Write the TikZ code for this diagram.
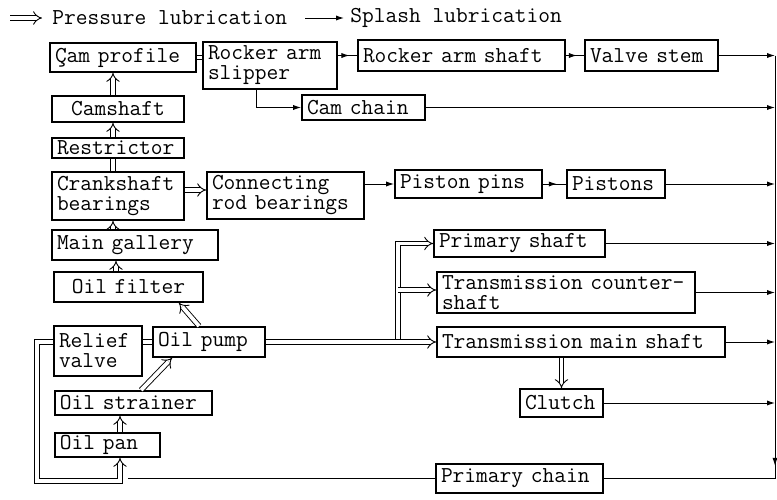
\documentclass[tikz,border=0pt]{standalone}
\usepackage{fontspec}
\usetikzlibrary{arrows.meta,calc,decorations.markings}
\newcommand\mybox[7][left]{%
 \pgfmathsetmacro\bw{(#4-#2)*0.5}%
 \pgfmathsetmacro\bh{(#5-#3)*0.5}%
 \pgfmathsetmacro\tw{(#4-#2)*0.5-5}%
 \node[box, minimum width=\bw pt, minimum height=\bh pt, text width=\tw pt, align=#1] (#6) at ({(#2+#4)/2},{(#3+#5)/2}) {#7};}
\begin{document}
\begin{tikzpicture}[x=0.5pt,y=-0.5pt,
  txt/.style={font=\ttfamily\fontsize{11.4}{10}\selectfont, inner sep=0pt},
  box/.style={txt, draw, line width=0.9pt, inner xsep=2.5pt, inner ysep=0pt},
  spl/.style={line width=0.5pt, -{Latex[length=4pt,width=2.6pt]}},
  splm/.style={line width=0.5pt, postaction={decorate,decoration={markings,mark=at position 0.6 with {\arrow{Latex[length=4pt,width=2.6pt]}}}}},
  pres/.style={line width=0.45pt, double, double distance=1.9pt, -{Implies[scale=1.3]}},
  presl/.style={line width=0.45pt, double, double distance=1.9pt}]
\useasboundingbox (0,0) rectangle (777,499);
% legend
\coordinate (la1) at (10,18); \coordinate (la2) at (42,18);
\coordinate (lb1) at (305,18); \coordinate (lb2) at (344,18);
\draw[pres] (la1) -- (la2);
\node[txt, anchor=west] (lgp) at (52,18) {Pressure lubrication};
\draw[spl] (lb1) -- (lb2);
\node[txt, anchor=west] (lgs) at (350,18) {Splash lubrication};
% boxes
\mybox{50}{43}{196}{72}{campro}{Çam profile}
\mybox{203}{42}{337}{89}{slipper}{Rocker arm\\slipper}
\mybox{358}{40}{565}{71}{rshaft}{Rocker arm shaft}
\mybox{585}{40}{718}{71}{valve}{Valve stem}
\mybox{302}{95}{425}{120}{camchain}{Cam chain}
\mybox[center]{52}{96}{184}{122}{camshaft}{Camshaft}
\mybox{52}{138}{184}{158}{restr}{Restrictor}
\mybox{52}{172}{184}{220}{crank}{Crankshaft\\bearings}
\mybox{207}{172}{364}{219}{conrod}{Connecting\\rod bearings}
\mybox{395}{170}{542}{198}{ppins}{Piston pins}
\mybox{567}{170}{665}{198}{pistons}{Pistons}
\mybox{52}{230}{218}{260}{gallery}{Main gallery}
\mybox[center]{54}{272}{203}{302}{filter}{Oil filter}
\mybox{54}{326}{142}{376}{relief}{Relief\\valve}
\mybox{153}{327}{265}{357}{pump}{Oil pump}
\mybox{55}{391}{212}{415}{strainer}{Oil strainer}
\mybox{55}{433}{160}{457}{pan}{Oil pan}
\mybox{434}{230}{605}{257}{pshaft}{Primary shaft}
\mybox{437}{272}{695}{313}{cshaft}{Transmission counter-\\shaft}
\mybox{437}{327}{725}{357}{mshaft}{Transmission main shaft}
\mybox{520}{389}{603}{417}{clutch}{Clutch}
\mybox{436}{464}{603}{493}{pchain}{Primary chain}
% helper coordinates
\coordinate (bus) at (775,0);
\coordinate (xa) at (113,0);
\coordinate (xb) at (116,0);
\coordinate (pa) at (120,0);
\coordinate (br) at (398,0);
\coordinate (lx) at (37,481);
\coordinate (lp) at (128,0);
% top row
\draw[presl] (campro.east) -- (campro.east -| slipper.west);
\draw[splm] (slipper.east |- rshaft.west) -- (rshaft.west);
\draw[splm] (rshaft.east) -- (valve.west);
\draw[spl] ($(slipper.south west)+(54,0)$) |- (camchain.west);
% left column
\draw[pres] (camshaft.north -| xa) -- (campro.south -| xa);
\draw[pres] (restr.north -| xa) -- (camshaft.south -| xa);
\draw[presl] (crank.north -| xa) -- (restr.south -| xa);
\draw[pres] (gallery.north -| xa) -- (crank.south -| xa);
\draw[pres] (filter.north -| xb) -- (gallery.south -| xb);
\draw[pres] ($(pump.north west)+(47,0)$) -- ($(filter.south east)+(-25,0)$);
\draw[pres] ($(strainer.north west)+(87,0)$) -- ($(pump.south west)+(20,0)$);
\draw[pres] (pan.north -| pa) -- (strainer.south -| pa);
\draw[pres] (crank.east |- 0,190) -- (conrod.west |- 0,190);
% connecting rod -> pistons
\draw[spl] (conrod.east |- ppins) -- (ppins.west);
\draw[splm] (ppins.east) -- (pistons.west);
% pump distribution
\draw[pres] (br |- mshaft) |- (pshaft.west);
\draw[pres] (br |- 0,290) -- (cshaft.west |- 0,290);
\draw[presl] (relief.east |- pump) -- (pump.west);
\draw[pres] (pump.east) -- (mshaft.west);
\draw[pres] (mshaft.south -| clutch.north) -- (clutch.north);
\draw[pres] (relief.west |- pump) -| (lx) -| (pan.south -| pa);
% splash returns to bus
\draw[spl] (valve.east) -- (valve.east -| bus);
\draw[spl] (camchain.east) -- (camchain.east -| bus);
\draw[spl] (pistons.east) -- (pistons.east -| bus);
\draw[spl] (pshaft.east) -- (pshaft.east -| bus);
\draw[spl] (cshaft.east) -- (cshaft.east -| bus);
\draw[spl] (mshaft.east) -- (mshaft.east -| bus);
\draw[spl] (clutch.east) -- (clutch.east -| bus);
\draw[line width=0.5pt, postaction={decorate,decoration={markings,mark=at position 0.97 with {\arrow{Latex[length=4pt,width=2.6pt]}}}}] (valve.east -| bus) -- (pchain.east -| bus);
\draw[line width=0.5pt] (pchain.east -| bus) -- (pchain.east);
\draw[line width=0.5pt] (pchain.west) -- (pchain.west -| lp);
\end{tikzpicture}
\end{document}
